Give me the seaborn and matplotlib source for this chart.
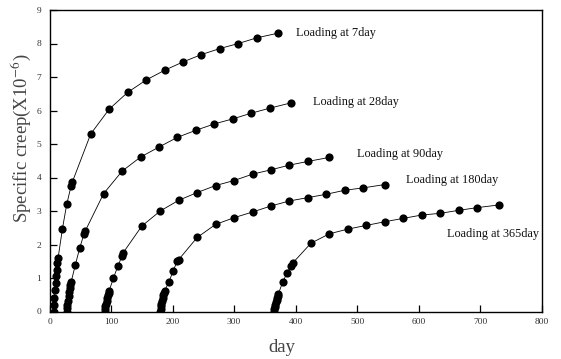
import matplotlib
matplotlib.use("Agg")
import matplotlib.pyplot as plt
import seaborn as sns
import pandas as pd

# ---- data ----
days_7 = [7, 7.5, 8, 9, 10, 11, 12, 13, 14, 21, 28, 35, 37, 67, 97, 127, 157, 187, 217, 247, 277, 307, 337, 372]
creep_7 = [0, 0.2, 0.4, 0.65, 0.85, 1.05, 1.25, 1.45, 1.6, 2.47, 3.2, 3.74, 3.86, 5.3, 6.04, 6.54, 6.91, 7.2, 7.45, 7.67, 7.85, 8.0, 8.17, 8.31]

days_28 = [28, 28.5, 29, 30, 31, 32, 33, 34, 35, 42, 49, 56, 58, 88, 118, 148, 178, 208, 238, 268, 298, 328, 358, 393]
creep_28 = [0, 0.1, 0.2, 0.32, 0.45, 0.57, 0.7, 0.8, 0.87, 1.39, 1.89, 2.31, 2.4, 3.52, 4.19, 4.61, 4.91, 5.2, 5.41, 5.6, 5.75, 5.92, 6.07, 6.23]

days_90 = [90, 90.5, 91, 92, 93, 94, 95, 96, 97, 104, 111, 118, 120, 150, 180, 210, 240, 270, 300, 330, 360, 390, 420, 455]
creep_90 = [0, 0.08, 0.15, 0.23, 0.32, 0.4, 0.48, 0.56, 0.62, 1.0, 1.35, 1.66, 1.76, 2.55, 3.0, 3.32, 3.55, 3.76, 3.91, 4.1, 4.23, 4.37, 4.48, 4.6]

days_180 = [180, 180.5, 181, 182, 183, 184, 185, 186, 187, 194, 201, 208, 210, 240, 270, 300, 330, 360, 390, 420, 450, 480, 510, 545]
creep_180 = [0, 0.08, 0.15, 0.23, 0.32, 0.4, 0.48, 0.56, 0.62, 0.87, 1.22, 1.51, 1.55, 2.21, 2.6, 2.8, 2.97, 3.15, 3.3, 3.4, 3.5, 3.62, 3.69, 3.79]

days_365 = [365, 365.5, 366, 367, 368, 369, 370, 371, 372, 379, 386, 393, 395, 425, 455, 485, 515, 545, 575, 605, 635, 665, 695, 730]
creep_365 = [0, 0.07, 0.13, 0.2, 0.27, 0.34, 0.41, 0.47, 0.53, 0.87, 1.15, 1.37, 1.44, 2.04, 2.32, 2.46, 2.57, 2.68, 2.78, 2.88, 2.93, 3.02, 3.1, 3.18]

series_names = ["Loading at 7day", "Loading at 28day", "Loading at 90day",
                "Loading at 180day", "Loading at 365day"]
label_x = [400, 429, 500, 580, 646]
label_y = [8.32, 6.25, 4.69, 3.93, 2.32]

x_ticks = [0, 100, 200, 300, 400, 500, 600, 700, 800]
y_ticks = [0, 1, 2, 3, 4, 5, 6, 7, 8, 9]

all_days = [days_7, days_28, days_90, days_180, days_365]
all_creep = [creep_7, creep_28, creep_90, creep_180, creep_365]

frames = []
for name, d, c in zip(series_names, all_days, all_creep):
    frames.append(pd.DataFrame({"day": d, "creep": c, "series": name}))
df = pd.concat(frames, ignore_index=True)

# ---- figure ----
sns.set_theme(style="ticks")
plt.rcParams["font.family"] = ["Liberation Serif", "DejaVu Serif"]
plt.rcParams["mathtext.fontset"] = "stix"

fig = plt.figure(figsize=(5.61, 3.59), dpi=100)
ax = fig.add_axes([49.5 / 561, 1 - 311.5 / 359, (541.7 - 49.5) / 561, (311.5 - 10) / 359])

sns.lineplot(data=df, x="day", y="creep", hue="series", units="series",
             estimator=None, sort=False,
             palette=["black"] * len(series_names), marker="o", markersize=5.9,
             markeredgewidth=0, linewidth=0.6, legend=False, ax=ax)

for name, lx, ly in zip(series_names, label_x, label_y):
    ax.text(lx, ly, name, fontsize=8.8, color="#111111", ha="left", va="center")

ax.set_xlim(0, 800)
ax.set_ylim(0, 9)
ax.set_xticks(x_ticks)
ax.set_yticks(y_ticks)
ax.tick_params(direction="in", length=5, width=0.9, labelsize=6.8,
               labelcolor="#333333", colors="black")
ax.tick_params(axis="y", pad=6)
ax.tick_params(axis="x", pad=5)
for s in ax.spines.values():
    s.set_visible(True)
    s.set_linewidth(1.0)
    s.set_color("black")

ax.set_xlabel("day", fontsize=13.5, color="#444444", va="center")
ax.set_ylabel("Specific creep(X10$^{-6}$)", fontsize=13.5, color="#444444", va="center")
ax.xaxis.set_label_coords(0.4726, -0.118)
ax.yaxis.set_label_coords(-0.0580, 0.575)

fig.savefig("out.png", dpi=100)
